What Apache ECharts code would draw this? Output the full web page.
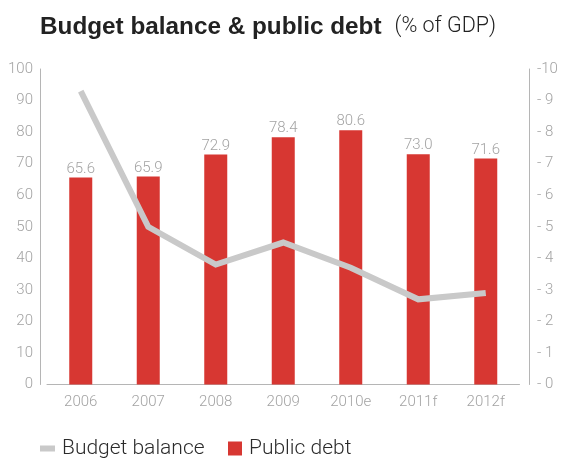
<!DOCTYPE html>
<html>
<head>
<meta charset="utf-8">
<script src="https://cdn.jsdelivr.net/npm/echarts@6/dist/echarts.min.js"></script>
<style>
  html, body { margin: 0; padding: 0; background: #fff; }
  #chart { width: 563px; height: 459px; }
</style>
</head>
<body>
<div id="chart"></div>
<script>
// Years, with estimate (e) and forecast (f) markers
const years = ['2006', '2007', '2008', '2009', '2010e', '2011f', '2012f'];
// Public debt, % of GDP (left axis)
const publicDebt = [65.6, 65.9, 72.9, 78.4, 80.6, 73.0, 71.6];
// Budget balance, % of GDP (right axis, deficits shown downward from the top)
const budgetBalance = [-9.3, -5.0, -3.8, -4.5, -3.7, -2.7, -2.9];

const FONT = 'Roboto, "Liberation Sans", sans-serif';
const GREY_TEXT = '#a3a3a3';
const AXIS_GREY = '#b5b5b5';
const RED = '#d73732';
const LINE_GREY = '#c9c9c9';

const chart = echarts.init(document.getElementById('chart'), null, { renderer: 'canvas' });

chart.setOption({
  animation: false,
  backgroundColor: '#ffffff',
  textStyle: { fontFamily: FONT },
  title: {
    left: 40,
    top: 15,
    padding: 0,
    text: '{b|Budget balance & public debt}{n|(% of GDP)}',
    textStyle: {
      rich: {
        b: { fontFamily: '"Liberation Sans", Arial, sans-serif', fontWeight: 'bold', fontSize: 24.3, color: '#222222' },
        n: { fontFamily: FONT, fontWeight: 300, fontSize: 21.5, color: '#222222', padding: [0, 0, 0, 13] }
      }
    }
  },
  legend: [
    {
      left: 40,
      top: 438,
      padding: 0,
      data: ['Budget balance'],
      icon: 'rect',
      itemWidth: 15,
      itemHeight: 6,
      itemStyle: { borderWidth: 0 },
      textStyle: { fontFamily: FONT, fontWeight: 300, fontSize: 21, color: '#2b2b2b', padding: [0, 0, 0, 2] }
    },
    {
      left: 228,
      top: 438,
      padding: 0,
      data: ['Public debt'],
      icon: 'rect',
      itemWidth: 14,
      itemHeight: 14,
      itemStyle: { borderWidth: 0 },
      textStyle: { fontFamily: FONT, fontWeight: 300, fontSize: 21, color: '#2b2b2b', padding: [0, 0, 0, 2] }
    }
  ],
  grid: {
    left: 47,
    right: 43.5,
    top: 69,
    bottom: 74.5,
    containLabel: false
  },
  xAxis: {
    type: 'category',
    data: years,
    boundaryGap: true,
    axisLine: { show: true, lineStyle: { color: AXIS_GREY, width: 1 } },
    axisTick: { show: false },
    axisLabel: { color: GREY_TEXT, fontSize: 15, fontWeight: 300, margin: 10, fontFamily: FONT }
  },
  yAxis: [
    {
      type: 'value',
      position: 'left',
      offset: 7,
      min: 0,
      max: 100,
      interval: 10,
      splitLine: { show: false },
      axisTick: { show: false },
      axisLine: { show: true, lineStyle: { color: AXIS_GREY, width: 1 } },
      axisLabel: { color: GREY_TEXT, fontSize: 15, fontWeight: 300, margin: 7, fontFamily: FONT }
    },
    {
      type: 'value',
      position: 'right',
      offset: 9.5,
      min: -10,
      max: 0,
      interval: 1,
      inverse: true,
      splitLine: { show: false },
      axisTick: { show: false },
      axisLine: { show: true, lineStyle: { color: AXIS_GREY, width: 1 } },
      axisLabel: {
        color: GREY_TEXT, fontSize: 15, fontWeight: 300, margin: 8, fontFamily: FONT,
        formatter: function (v) { return v <= -10 ? String(v) : '- ' + Math.abs(v); }
      }
    }
  ],
  series: [
    {
      name: 'Public debt',
      type: 'bar',
      yAxisIndex: 0,
      data: publicDebt,
      barWidth: 23,
      itemStyle: { color: RED },
      label: {
        show: true,
        position: 'top',
        distance: 1,
        color: GREY_TEXT,
        fontSize: 15,
        fontWeight: 300,
        fontFamily: FONT,
        formatter: function (p) { return p.value.toFixed(1); }
      },
      z: 2
    },
    {
      name: 'Budget balance',
      type: 'line',
      yAxisIndex: 1,
      data: budgetBalance,
      symbol: 'none',
      itemStyle: { color: LINE_GREY },
      lineStyle: { color: LINE_GREY, width: 6, cap: 'butt', join: 'miter' },
      z: 3
    }
  ]
});
</script>
</body>
</html>
